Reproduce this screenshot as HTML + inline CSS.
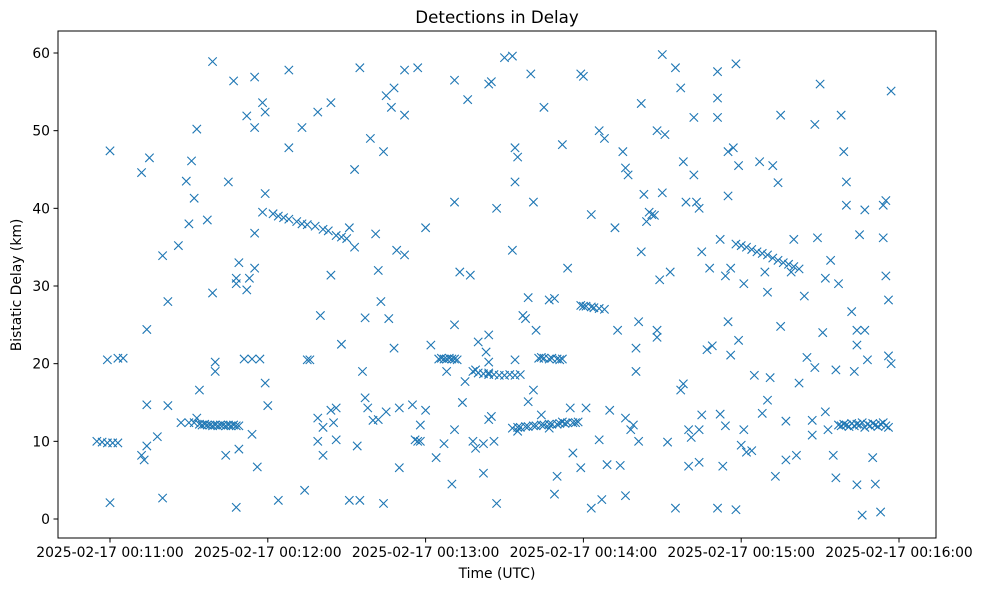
<!DOCTYPE html>
<html><head><meta charset="utf-8"><style>
html,body{margin:0;padding:0;background:#fff;}
svg text{font-family:"DejaVu Sans","Liberation Sans",sans-serif;fill:#000;}
</style></head><body>
<svg id="chart" width="986" height="590" viewBox="0 0 986 590" xmlns="http://www.w3.org/2000/svg">
<rect x="0" y="0" width="986" height="590" fill="#fff"/>
<text x="497" y="23" font-size="16.7" text-anchor="middle">Detections in Delay</text>
<text x="497" y="578" font-size="13.9" text-anchor="middle">Time (UTC)</text>
<text x="21" y="285" font-size="13.9" text-anchor="middle" transform="rotate(-90 21 285)">Bistatic Delay (km)</text>
<g id="marks"></g>
<g id="axes"></g>
</svg>
<script>
// seconds after 2025-02-17 00:11:00 UTC
const times = [-5,-3,-1,1,3,-1,0,0,3,5,12,13,14,12,15,14,14,18,20,20,22,22,26,27,29,30,31,32,33,30,32,33,34,
34,35,36,37,38,39,40,41,42,43,44,45,46,47,48,49,
37,39,39,40,40,44,45,47,48,48,49,49,48,51,52,52,53,54,55,55,55,55,56,54,57,58,59,59,59,60,58,
62,64,66,68,71,73,75,78,81,83,86,88,90,93,
64,68,68,73,74,75,76,79,80,79,79,81,81,84,84,84,86,85,86,88,91,91,93,94,95,95,96,97,97,98,99,100,101,102,102,103,104,104,105,105,106,107,108,109,108,110,110,112,112,112,115,116,117,117,118,118,120,120,122,124,127,
125,126,127,128,129,130,131,132,
128,130,131,131,131,131,133,134,136,135,137,138,138,139,139,140,142,142,143,144,144,144,144,144,145,145,146,147,147,
140,142,144,146,148,150,152,154,156,
150,153,153,154,154,154,155,155,
153,155,156,158,159,161,162,164,165,167,168,170,171,173,174,176,177,178,
157,158,159,159,160,161,161,162,164,165,
163,164,165,167,168,170,171,172,
167,167,169,169,170,172,172,174,175,176,179,179,180,
179,180,181,183,184,186,
181,183,183,186,186,188,188,187,189,190,192,193,194,195,196,196,198,196,197,199,200,200,201,202,201,202,203,204,205,206,208,207,208,208,209,210,210,211,212,213,215,215,217,217,218,218,219,220,220,221,222,222,223,224,224,225,224,225,227,228,229,231,231,231,231,232,232,233,234,234,235,235,235,236,236,237,238,238,
238,240,242,244,246,248,250,252,254,256,258,260,262,
239,239,240,241,241,242,244,245,247,248,249,250,250,251,252,253,254,255,255,257,257,259,260,261,262,264,265,267,267,268,268,269,270,271,272,272,273,274,275,276,276,277,278,279,280,280,282,283,284,284,285,284,286,287,287,288,290,291,293,294,294,295,295,296,296,297,297,
277,278,279,280,281,282,283,284,285,286,287,288,289,290,291,292,293,294,295,296];
const delays = [10,9.9,9.8,9.8,9.8,20.5,47.4,2.1,20.7,20.7,8.2,7.6,9.4,44.6,46.5,24.4,14.7,10.6,33.9,2.7,14.6,28,35.2,12.4,43.5,38,46.1,41.3,50.2,12.4,12.4,13,16.6,
12.2,12.1,12.2,12.1,12.1,12.0,12.1,12.0,12.1,12.1,12.0,12.1,12.0,12.1,12.0,12.0,
38.5,29.1,58.9,20.2,19,8.2,43.4,56.4,1.5,31,33,9,30.3,20.6,51.9,29.5,31,10.9,50.4,56.9,32.3,36.8,6.7,20.6,20.6,53.6,52.4,41.9,17.5,14.6,39.5,
39.3,39,38.8,38.6,38.3,38,37.9,37.7,37.3,37.1,36.5,36.3,36.1,35,
2.4,57.8,47.8,50.4,3.7,20.5,20.5,52.4,26.2,13,10,8.2,11.8,14,53.6,31.4,14.3,12.4,10.2,22.5,37.5,2.4,45,9.4,58.1,2.4,19,15.6,25.9,14.3,49,12.7,36.7,32,12.8,28,47.3,2,54.5,13.8,25.8,53,55.5,34.6,22,14.3,6.6,34,52,57.8,14.7,10.2,10,58.1,12.1,10,14,37.5,22.4,7.9,9.7,
20.6,20.7,20.6,20.6,20.7,20.6,20.6,20.5,
19,4.5,56.5,40.8,25,11.5,31.8,15,54,17.7,31.4,19,10,9.1,19.2,22.8,9.7,5.9,21.5,56,12.8,18.8,23.7,20.2,56.3,13.2,10,2,40,
18.8,18.7,18.6,18.6,18.5,18.5,18.6,18.5,18.6,
59.4,34.6,59.6,20.5,47.8,43.4,46.6,11.3,
11.7,11.8,11.8,11.9,11.9,12,12,12.1,12.1,12.2,12.2,12.2,12.3,12.3,12.4,12.4,12.4,12.5,
26.2,25.8,28.5,15.1,57.3,40.8,16.6,24.3,13.4,53,
20.7,20.8,20.7,20.6,20.7,20.6,20.5,20.6,
11.7,28.2,3.2,28.4,5.5,48.2,12.5,32.3,14.3,8.5,6.6,57.3,57,
27.5,27.4,27.4,27.3,27.2,27.1,
14.3,1.4,39.2,10.2,50,49,27,2.5,7,14,37.5,24.3,6.9,47.3,3,13,11.5,45.2,44.3,12.1,22,19,25.4,53.5,10,34.4,41.8,38.3,39.5,39.2,24.3,39.1,50,23.4,30.8,42,59.8,49.5,9.9,31.8,58.1,1.4,55.5,16.6,46,17.4,40.8,11.5,6.8,10.5,44.3,51.7,40.8,7.3,11.5,13.4,40,34.4,21.8,32.3,22.3,1.4,51.7,54.2,57.6,36,13.5,6.8,12,31.3,47.3,25.4,41.6,21.1,32.3,47.8,1.2,58.6,
35.4,35.2,35,34.7,34.4,34.2,34,33.6,33.3,33,32.8,32.5,32.2,
23,45.5,9.5,11.5,30.3,8.6,8.8,18.5,46,13.6,31.8,29.2,15.3,18.2,45.5,5.5,43.3,24.8,52,12.6,7.6,31.8,36,8.2,17.5,28.7,20.8,12.7,10.8,19.5,50.8,36.2,56,24,31,13.8,11.5,33.3,8.2,5.3,19.2,30.3,52,47.3,40.4,43.4,26.7,19,22.4,24.3,36.6,4.4,0.5,39.8,24.3,20.5,7.9,4.5,0.9,36.2,40.4,41,31.3,21,28.2,20,55.1,
12.1,12.0,12.2,12.1,11.9,12.3,12.0,12.2,12.1,12.4,11.8,12.2,12.0,12.3,12.1,11.9,12.2,12.4,12.0,11.8];
const yTicks = [0,10,20,30,40,50,60];
const xTickSecs = [0,60,120,180,240,300];
const xTickLabels = ["2025-02-17 00:11:00","2025-02-17 00:12:00","2025-02-17 00:13:00","2025-02-17 00:14:00","2025-02-17 00:15:00","2025-02-17 00:16:00"];

const PL=58, PR=936, PT=31, PB=538;
function xs(t){ return 110 + t*(899-110)/300; }
function ys(d){ return 519 - d*(519-53)/60; }
const NS="http://www.w3.org/2000/svg";
const marks=document.getElementById('marks');
const axes=document.getElementById('axes');
const n=Math.min(times.length,delays.length);
for(let i=0;i<n;i++){
  const cx=xs(times[i]), cy=ys(delays[i]), r=4.2;
  const p=document.createElementNS(NS,'path');
  p.setAttribute('d',`M${cx-r},${cy-r}L${cx+r},${cy+r}M${cx-r},${cy+r}L${cx+r},${cy-r}`);
  p.setAttribute('stroke','#1f77b4');
  p.setAttribute('stroke-width','1.1');
  p.setAttribute('fill','none');
  
  
  marks.appendChild(p);
}
const frame=document.createElementNS(NS,'rect');
frame.setAttribute('x',PL);frame.setAttribute('y',PT);
frame.setAttribute('width',PR-PL);frame.setAttribute('height',PB-PT);
frame.setAttribute('fill','none');frame.setAttribute('stroke','#000');frame.setAttribute('stroke-width','1');


axes.appendChild(frame);
yTicks.forEach(v=>{
  const y=ys(v);
  const l=document.createElementNS(NS,'line');
  l.setAttribute('x1',PL-4.5);l.setAttribute('x2',PL);l.setAttribute('y1',y);l.setAttribute('y2',y);
  l.setAttribute('stroke','#000');
  
  
  axes.appendChild(l);
  const t=document.createElementNS(NS,'text');
  t.setAttribute('x',PL-8);t.setAttribute('y',y+5);t.setAttribute('font-size','13.9');t.setAttribute('text-anchor','end');
  t.textContent=v;
  
  
  axes.appendChild(t);
});
xTickSecs.forEach((s,i)=>{
  const x=xs(s);
  const l=document.createElementNS(NS,'line');
  l.setAttribute('x1',x);l.setAttribute('x2',x);l.setAttribute('y1',PB);l.setAttribute('y2',PB+4.5);
  l.setAttribute('stroke','#000');
  
  
  axes.appendChild(l);
  const t=document.createElementNS(NS,'text');
  t.setAttribute('x',x);t.setAttribute('y',PB+19);t.setAttribute('font-size','13.9');t.setAttribute('text-anchor','middle');
  t.textContent=xTickLabels[i];
  
  
  axes.appendChild(t);
});
</script>
</body></html>
